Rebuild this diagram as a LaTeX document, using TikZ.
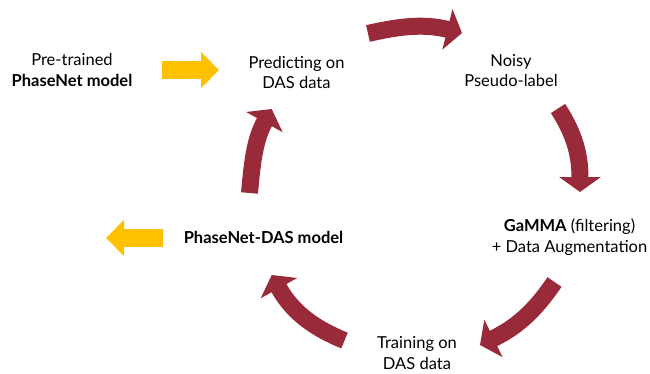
\documentclass[tikz,border=0pt]{standalone}
\usepackage{fontspec}
\setmainfont{Lato}
\usetikzlibrary{arrows.meta}
\definecolor{cred}{RGB}{153,42,57}
\definecolor{cyel}{RGB}{255,192,0}
\begin{document}
\begin{tikzpicture}[x=1pt,y=1pt,
  lbl/.style={align=center, font=\fontsize{16.5}{20.5}\selectfont, inner sep=0pt},
  cyc/.style={draw=cred, line width=17pt, line cap=butt, -{Triangle[length=15pt,width=41pt]}},
  yarr/.style={draw=cyel, line width=18pt, line cap=butt, -{Triangle[length=18pt,width=35pt]}}]
\useasboundingbox (0,0) rectangle (650,373);
% labels
\node[lbl] (pre)  at (72,303)    {Pre-trained\\\textbf{PhaseNet model}};
\node[lbl] (pred) at (296.5,300.5) {Predicting on\\DAS data};
\node[lbl] (noisy) at (511,302.5) {Noisy\\Pseudo-label};
\node[lbl] (gamma) at (569.5,136) {\textbf{GaMMA} (filtering)\\+ Data Augmentation};
\node[lbl] (train) at (417,20)  {Training on\\DAS data};
\node[lbl] (pdas) at (263.5,136) {\textbf{PhaseNet-DAS model}};
% yellow arrows
\coordinate (y1s) at (162,303); \coordinate (y1e) at (219,303);
\draw[yarr] (y1s) -- (y1e);
\coordinate (y2s) at (163,135); \coordinate (y2e) at (106,135);
\draw[yarr] (y2s) -- (y2e);
% cycle arrows
\coordinate (c1s) at (368,339.5); \coordinate (c1e) at (462,340);
\draw[cyc] (c1s) to[out=13,in=166] (c1e);
\coordinate (c2s) at (558,264.5); \coordinate (c2e) at (580,181);
\draw[cyc] (c2s) to[out=-57,in=90] (c2e);
\coordinate (c3s) at (554.5,91); \coordinate (c3e) at (480,28);
\draw[cyc] (c3s) to[out=236,in=26] (c3e);
\coordinate (c4s) at (344.5,32.5); \coordinate (c4e) at (271.7,98);
\draw[cyc] (c4s) to[out=158,in=-61] (c4e);
\coordinate (c5s) at (249.5,180); \coordinate (c5e) at (271.7,264);
\draw[cyc] (c5s) to[out=85,in=241] (c5e);
\end{tikzpicture}
\end{document}
